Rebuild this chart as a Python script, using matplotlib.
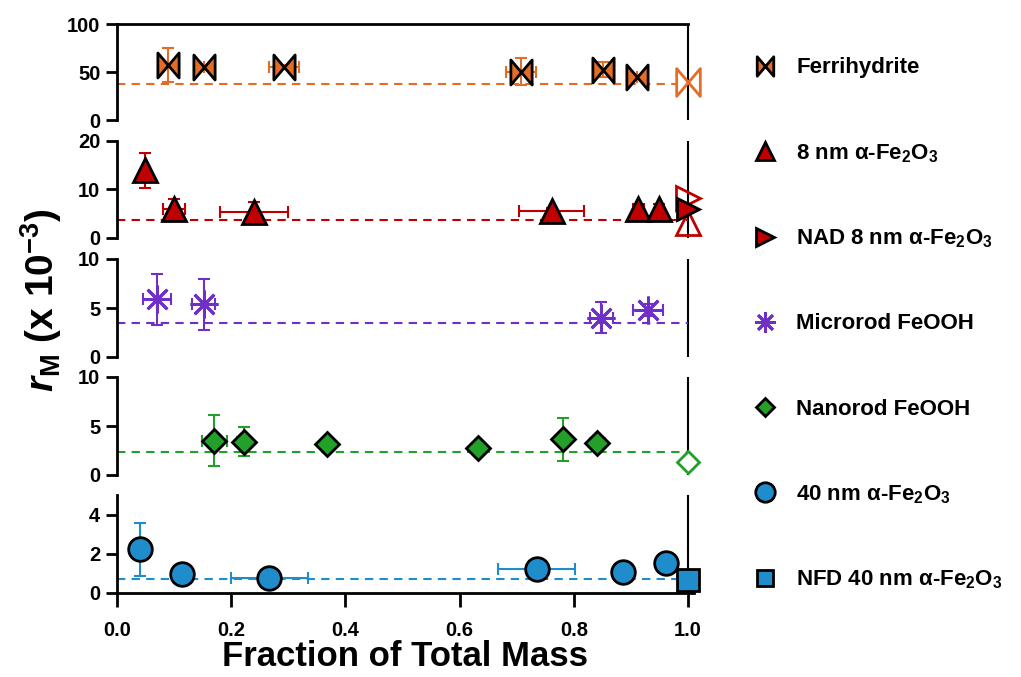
import numpy as np
import matplotlib
matplotlib.use('Agg')
import matplotlib.pyplot as plt
from matplotlib.path import Path
from matplotlib.lines import Line2D

plt.rcParams['font.family'] = ['Liberation Sans', 'DejaVu Sans']
plt.rcParams['font.weight'] = 'bold'
plt.rcParams['mathtext.fontset'] = 'custom'
plt.rcParams['mathtext.rm'] = 'Liberation Sans:bold'
plt.rcParams['mathtext.bf'] = 'Liberation Sans:bold'
plt.rcParams['mathtext.it'] = 'Liberation Sans:italic:bold'

# --- data ---
# Ferrihydrite
ferri_x = [0.089, 0.152, 0.293, 0.708, 0.851, 0.910]
ferri_y = [57.5, 54.7, 55.5, 50.5, 52.5, 44.6]
ferri_yerr = [18, 3, 2, 14, 8, 2]
ferri_xerr = [0.0, 0.0, 0.026, 0.026, 0.015, 0.0]
ferri_ref = 37.6
ferri_open_y = [40.0]

# 8 nm hematite
hem8_x = [0.049, 0.100, 0.240, 0.761, 0.913, 0.950]
hem8_y = [14.0, 6.0, 5.4, 5.6, 6.0, 6.0]
hem8_yerr = [3.6, 2.0, 2.0, 0.5, 1.0, 1.0]
hem8_xerr = [0.0, 0.019, 0.059, 0.057, 0.010, 0.0]
hem8_ref = 3.75
hem8_open_y = [3.1]
nad8_y = [6.0]
nad8_open_y = [8.2]

# Microrod FeOOH
micro_x = [0.070, 0.152, 0.848, 0.930]
micro_y = [5.9, 5.4, 4.0, 4.8]
micro_yerr = [2.6, 2.6, 1.6, 0.6]
micro_xerr = [0.025, 0.020, 0.020, 0.026]
micro_ref = 3.48

# Nanorod FeOOH
nano_x = [0.170, 0.222, 0.367, 0.633, 0.781, 0.841]
nano_y = [3.48, 3.41, 3.14, 2.8, 3.65, 3.24]
nano_yerr = [2.6, 1.5, 0.3, 0.5, 2.2, 0.3]
nano_xerr = [0.022, 0.012, 0.0, 0.0, 0.0, 0.013]
nano_ref = 2.32
nano_open_y = [1.37]

# 40 nm hematite
hem40_x = [0.041, 0.113, 0.267, 0.735, 0.887, 0.961]
hem40_y = [2.24, 0.98, 0.75, 1.22, 1.05, 1.55]
hem40_yerr = [1.35, 0.0, 0.1, 0.0, 0.0, 0.0]
hem40_xerr = [0.0, 0.0, 0.067, 0.067, 0.0, 0.0]
hem40_ref = 0.71
nfd40_y = [0.64]

orange = '#E46C27'
red = '#C00000'
purple = '#7030C8'
green = '#22A02A'
blue = '#1F8DCB'

bowtie = Path([(-0.85, -1), (-0.85, 1), (0.85, -1), (0.85, 1), (-0.85, -1)], closed=True)
aster = (8, 2, 0)

fig = plt.figure(figsize=(10.21, 6.77), dpi=100)

left = 117 / 1021
xmax = 1.01
width = xmax * 571 / 1021
# (top px, bottom px) of each panel
panel_px = [(24, 120), (141, 238), (259, 357), (377, 475), (495, 593)]
ylims = [(0, 100), (0, 20), (0, 10), (0, 10), (0, 5)]
yticks = [[0, 50, 100], [0, 10, 20], [0, 5, 10], [0, 5, 10], [0, 2, 4]]

axes = []
for i, (t, b) in enumerate(panel_px):
    ax = fig.add_axes([left, 1 - b / 677, width, (b - t) / 677])
    ax.set_xlim(0, xmax)
    ax.set_ylim(*ylims[i])
    ax.set_yticks(yticks[i])
    ax.spines['right'].set_visible(False)
    ax.spines['left'].set_linewidth(2)
    ax.spines['bottom'].set_linewidth(2)
    if i == 0:
        ax.spines['top'].set_bounds(0, 1)
        ax.spines['top'].set_linewidth(2)
    else:
        ax.spines['top'].set_visible(False)
    if i < 4:
        ax.spines['bottom'].set_visible(False)
        ax.tick_params(axis='x', bottom=False, labelbottom=False)
    ax.tick_params(axis='both', direction='out', length=8, width=2, labelsize=14.5, pad=4)
    ax.axvline(1.0, color='black', lw=1.5, zorder=1)
    axes.append(ax)


def series(ax, x, y, xerr, yerr, ref, color, marker, ms, mec='black', mew=2):
    ax.axhline(ref, xmax=1 / xmax, color=color, lw=1.5, ls=(0, (4, 3)), zorder=1)
    ax.errorbar(x, y, xerr=xerr, yerr=yerr, fmt='none', ecolor=color,
                elinewidth=1.5, capsize=4, capthick=1.5, zorder=2)
    ax.plot(x, y, ls='none', marker=marker, ms=ms, mfc=color, mec=mec, mew=mew, zorder=3)


series(axes[0], ferri_x, ferri_y, ferri_xerr, ferri_yerr, ferri_ref, orange, bowtie, 18)
axes[0].plot([1.0] * len(ferri_open_y), ferri_open_y, ls='none', marker=bowtie, ms=20,
             mfc='white', mec=orange, mew=2, zorder=3, clip_on=False)

series(axes[1], hem8_x, hem8_y, hem8_xerr, hem8_yerr, hem8_ref, red, '^', 17)
axes[1].plot([1.0] * len(hem8_open_y), hem8_open_y, ls='none', marker='^', ms=17,
             mfc='none', mec=red, mew=2, zorder=3, clip_on=False)
axes[1].plot([1.0] * len(nad8_open_y), nad8_open_y, ls='none', marker='>', ms=17,
             mfc='none', mec=red, mew=2, zorder=3, clip_on=False)
axes[1].plot([1.0] * len(nad8_y), nad8_y, ls='none', marker='>', ms=16,
             mfc=red, mec='black', mew=2, zorder=4, clip_on=False)

series(axes[2], micro_x, micro_y, micro_xerr, micro_yerr, micro_ref, purple, aster, 20,
       mec=purple, mew=2)

series(axes[3], nano_x, nano_y, nano_xerr, nano_yerr, nano_ref, green, 'D', 12.5)
axes[3].plot([1.0] * len(nano_open_y), nano_open_y, ls='none', marker='D', ms=11,
             mfc='white', mec=green, mew=2, zorder=3, clip_on=False)

series(axes[4], hem40_x, hem40_y, hem40_xerr, hem40_yerr, hem40_ref, blue, 'o', 17)
axes[4].plot([1.0] * len(nfd40_y), nfd40_y, ls='none', marker='s', ms=16,
             mfc=blue, mec='black', mew=2, zorder=4, clip_on=False)

axes[4].set_xticks([0.0, 0.2, 0.4, 0.6, 0.8, 1.0])
axes[4].set_xticklabels(['0.0', '0.2', '0.4', '0.6', '0.8', '1.0'])
axes[4].tick_params(axis='x', length=10, pad=10)
axes[4].set_xlabel('Fraction of Total Mass', fontsize=25, fontweight='bold', labelpad=0)

fig.text(0.040, 1 - 300 / 677, r'$r_{\mathrm{M}}$ (x 10$^{\mathrm{-3}}$)', rotation=90,
         ha='center', va='center', fontsize=28, fontweight='bold')

# legend, one entry per row at even spacing
labels = ['Ferrihydrite',
          r'8 nm α-Fe$_{\mathrm{2}}$O$_{\mathrm{3}}$',
          r'NAD 8 nm α-Fe$_{\mathrm{2}}$O$_{\mathrm{3}}$',
          'Microrod FeOOH',
          'Nanorod FeOOH',
          r'40 nm α-Fe$_{\mathrm{2}}$O$_{\mathrm{3}}$',
          r'NFD 40 nm α-Fe$_{\mathrm{2}}$O$_{\mathrm{3}}$']
handles = [
    Line2D([], [], ls='none', marker=bowtie, ms=14, mfc=orange, mec='black', mew=2),
    Line2D([], [], ls='none', marker='^', ms=13, mfc=red, mec='black', mew=2),
    Line2D([], [], ls='none', marker='>', ms=13, mfc=red, mec='black', mew=2),
    Line2D([], [], ls='none', marker=aster, ms=15, mfc=purple, mec=purple, mew=2),
    Line2D([], [], ls='none', marker='D', ms=9.5, mfc=green, mec='black', mew=2),
    Line2D([], [], ls='none', marker='o', ms=14, mfc=blue, mec='black', mew=2),
    Line2D([], [], ls='none', marker='s', ms=12, mfc=blue, mec='black', mew=2),
]
row0, step = 68, 85.3
fs = 16
for i, (h, lab) in enumerate(zip(handles, labels)):
    fig.legend([h], [lab], loc='center left', bbox_to_anchor=(753 / 1021, 1 - (row0 + i * step) / 677),
               frameon=False, fontsize=fs, handlelength=1.1, handletextpad=0.85,
               borderpad=0, borderaxespad=0)

fig.savefig('out.png', dpi=100)
